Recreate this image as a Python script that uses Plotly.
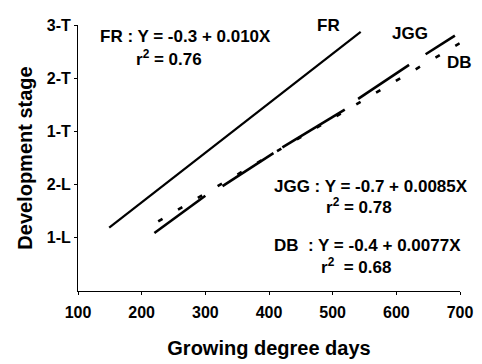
import plotly.graph_objects as go

# ---- data ----
stage_vals = [1, 2, 3, 4, 5]
stage_labels = ["1-L", "2-L", "1-T", "2-T", "3-T"]
gdd_ticks = [100, 200, 300, 400, 500, 600, 700]

fr_x = [149, 544]
fr_y = [1.19, 4.87]

# JGG regression line (drawn with breaks as in the scan)
jgg_x = [220, 300, None, 327, 407, None, 421, 519, None, 540, 620, None, 646, 692]
jgg_y = [1.09, 1.79, None, 1.97, 2.59, None, 2.70, 3.41, None, 3.61, 4.25, None, 4.45, 4.80]

db_x = [226, 700]
db_y = [1.31, 4.66]

FONT = "Arial, Liberation Sans, Helvetica, sans-serif"

fig = go.Figure()
fig.add_trace(go.Scatter(x=fr_x, y=fr_y, mode="lines",
                         line=dict(color="black", width=2.2), showlegend=False))
fig.add_trace(go.Scatter(x=jgg_x, y=jgg_y, mode="lines", connectgaps=False,
                         line=dict(color="black", width=2.6), showlegend=False))
fig.add_trace(go.Scatter(x=db_x, y=db_y, mode="lines",
                         line=dict(color="black", width=2.6, dash="5px,18px"),
                         showlegend=False))

ann = [
    ("<b>FR : Y = -0.3 + 0.010X</b>", 132, 4.78, "left"),
    ("<b>r<sup>2</sup> = 0.76</b>", 188, 4.38, "left"),
    ("<b>FR</b>", 494, 4.99, "center"),
    ("<b>JGG</b>", 621, 4.84, "center"),
    ("<b>DB</b>", 699, 4.30, "center"),
    ("<b>JGG : Y = -0.7 + 0.0085X</b>", 404, 1.97, "left"),
    ("<b>r<sup>2</sup> = 0.78</b>", 486, 1.60, "left"),
    ("<b>DB  : Y = -0.4 + 0.0077X</b>", 404, 0.86, "left"),
    ("<b>r<sup>2</sup>  = 0.68</b>", 478, 0.47, "left"),
]
for text, x, y, anchor in ann:
    fig.add_annotation(x=x, y=y, xref="x", yref="y", text=text, showarrow=False,
                       xanchor=anchor, yanchor="middle",
                       font=dict(family=FONT, size=17, color="black"))

# page body adds an 8px offset, so the figure is 8px smaller than the window
fig.update_layout(
    width=474, height=356,
    margin=dict(l=70, r=15, t=9, b=73),
    paper_bgcolor="white", plot_bgcolor="white",
    font=dict(family=FONT, color="black"),
    xaxis=dict(range=[100, 700], tickvals=gdd_ticks, ticktext=[f"<b>{v}</b>" for v in gdd_ticks],
               showgrid=False, zeroline=False, showline=True, linecolor="black", linewidth=1,
               ticks="outside", ticklen=3, tickcolor="black", ticklabelstandoff=4,
               tickfont=dict(family=FONT, size=16),
               title=dict(text="<b>Growing degree days</b>", font=dict(family=FONT, size=20),
                          standoff=20)),
    yaxis=dict(range=[0, 5], tickvals=stage_vals, ticktext=[f"<b>{t}</b>" for t in stage_labels],
               showgrid=False, zeroline=False, showline=True, linecolor="black", linewidth=1,
               ticks="outside", ticklen=3, tickcolor="black",
               tickfont=dict(family=FONT, size=16),
               title=dict(text="<b>Development stage</b>", font=dict(family=FONT, size=20),
                          standoff=8)),
)

fig.write_html("out.html")
